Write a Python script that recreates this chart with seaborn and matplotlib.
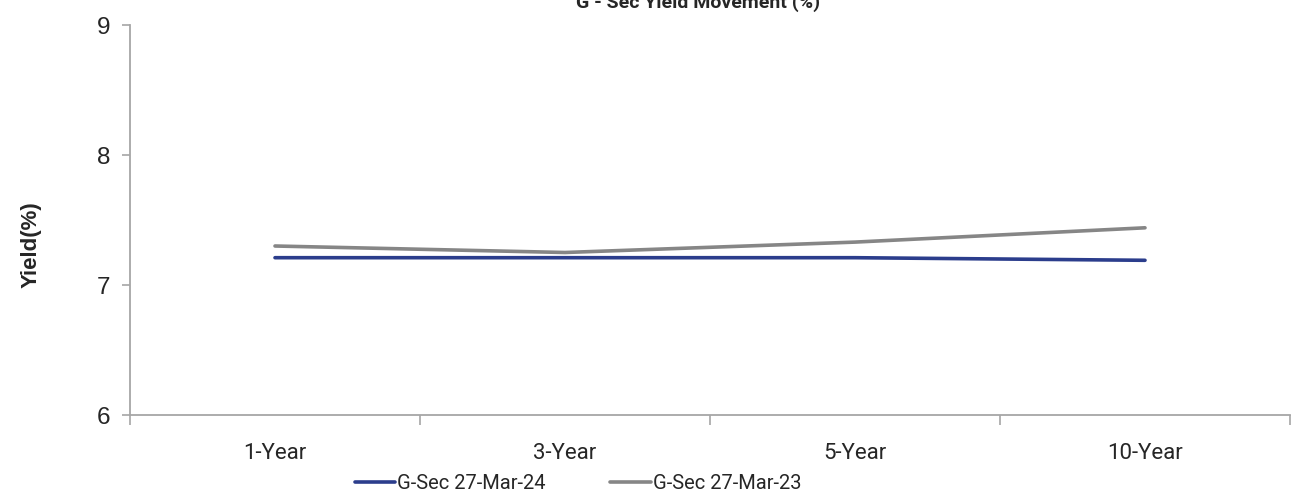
import matplotlib
matplotlib.use("Agg")
import matplotlib.pyplot as plt
import pandas as pd
import seaborn as sns

# tenors on the x axis
tenors = ["1-Year", "3-Year", "5-Year", "10-Year"]
# yields (%)
yield_24 = [7.21, 7.21, 7.21, 7.19]
yield_23 = [7.30, 7.25, 7.33, 7.44]
series_names = ["G-Sec 27-Mar-24", "G-Sec 27-Mar-23"]

df = pd.concat([
    pd.DataFrame({"Tenor": tenors, "Yield": yield_24, "Series": series_names[0]}),
    pd.DataFrame({"Tenor": tenors, "Yield": yield_23, "Series": series_names[1]}),
])

sns.set_style("white")
plt.rcParams["font.family"] = ["Liberation Sans", "DejaVu Sans"]

fig = plt.figure(figsize=(13.02, 4.93), dpi=100)
ax = fig.add_axes([130 / 1302, 1 - 415 / 493, 1160 / 1302, 390 / 493])

pal = {series_names[0]: "#2B3D8C", series_names[1]: "#868686"}
sns.lineplot(data=df, x="Tenor", y="Yield", hue="Series", palette=pal,
             linewidth=2.6, sort=False, ax=ax, legend=False)

ax.set_xlim(-0.5, 3.5)
ax.set_ylim(6, 9)
ax.set_yticks([6, 7, 8, 9])
ax.set_yticklabels(["6", "7", "8", "9"], fontsize=17.5)

# category labels between boundary ticks
ax.set_xticks([-0.5, 0.5, 1.5, 2.5, 3.5])
ax.set_xticklabels([])
ax.set_xticks(range(len(tenors)), minor=True)
ax.set_xticklabels(tenors, minor=True, fontsize=16, family="Roboto")
ax.tick_params(axis="x", which="minor", length=0, pad=20)
ax.tick_params(axis="x", which="major", length=7, width=1.2, color="#A6A6A6", direction="out", bottom=True)
ax.tick_params(axis="y", length=6, width=1.2, color="#A6A6A6", direction="out", left=True, pad=8)

for s in ["top", "right"]:
    ax.spines[s].set_visible(False)
for s in ["left", "bottom"]:
    ax.spines[s].set_color("#A6A6A6")
    ax.spines[s].set_linewidth(1.3)

ax.set_xlabel("")
ax.set_ylabel("Yield(%)", fontsize=16, fontweight="bold")
ax.yaxis.set_label_coords(-0.076, 0.436)

fig.text(0.536, 0.984, "G - Sec Yield Movement (%)", ha="center", va="baseline",
         fontsize=14, fontweight="bold", family="Roboto")

handles = [plt.Line2D([], [], color=pal[n], linewidth=2.6) for n in series_names]
fig.legend(handles, series_names, loc="center", bbox_to_anchor=(0.444, 0.02),
           ncol=2, frameon=False, prop={"family": "Roboto", "size": 14.5},
           handlelength=2.0, handletextpad=0.1, columnspacing=3.2,
           borderaxespad=0, borderpad=0)

fig.savefig("out.png", dpi=100)
